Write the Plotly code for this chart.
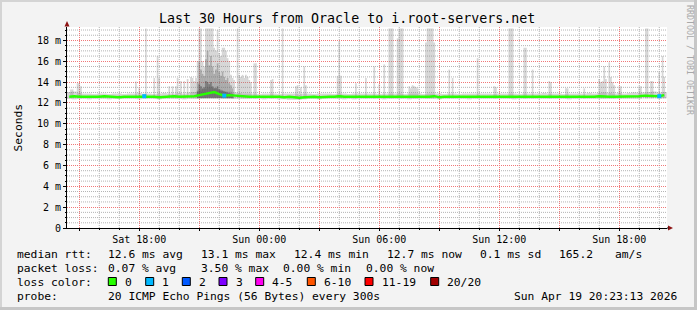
import pandas as pd
import plotly.graph_objects as go

MONO = "DejaVu Sans Mono"

# ---------------- data ----------------
t_start = "2026-04-18 14:23:13"
t_end = "2026-04-19 20:23:13"

# 15-minute median rtt (ms) and lost pings per bin, Sat 14:30 -> Sun 20:15
median_times = pd.date_range("2026-04-18 14:30", periods=120, freq="15min")
median_ms = [
    12.60, 12.65, 12.60, 12.60, 12.55, 12.60, 12.60, 12.65, 12.60, 12.60, 12.55, 12.60,
    12.60, 12.60, 12.65, 12.65, 12.60, 12.60, 12.55, 12.60, 12.60, 12.65, 12.60, 12.60,
    12.60, 12.65, 12.75, 12.85, 13.00, 13.05, 12.85, 12.70, 12.75, 12.70, 12.65, 12.60,
    12.60, 12.60, 12.60, 12.65, 12.60, 12.60, 12.60, 12.55, 12.60, 12.55, 12.50, 12.55,
    12.60, 12.60, 12.55, 12.60, 12.60, 12.60, 12.65, 12.60, 12.60, 12.55, 12.60, 12.60,
    12.60, 12.60, 12.60, 12.55, 12.60, 12.60, 12.60, 12.60, 12.55, 12.60, 12.60, 12.60,
    12.60, 12.65, 12.55, 12.60, 12.60, 12.60, 12.60, 12.60, 12.55, 12.60, 12.60, 12.60,
    12.60, 12.60, 12.60, 12.60, 12.60, 12.55, 12.60, 12.60, 12.60, 12.60, 12.60, 12.60,
    12.60, 12.60, 12.60, 12.60, 12.55, 12.60, 12.60, 12.60, 12.60, 12.60, 12.65, 12.60,
    12.60, 12.60, 12.60, 12.65, 12.60, 12.60, 12.65, 12.70, 12.70, 12.70, 12.65, 12.75,
]
median_loss = [
    0, 0, 0, 0, 0, 0, 0, 0, 0, 0, 0, 0,
    0, 0, 0, 1, 0, 0, 0, 0, 0, 0, 0, 0,
    0, 0, 0, 0, 0, 0, 0, 1, 0, 0, 0, 0,
    0, 0, 0, 0, 0, 0, 0, 0, 0, 0, 0, 0,
    0, 0, 0, 0, 0, 0, 0, 0, 0, 0, 0, 0,
    0, 0, 0, 0, 0, 0, 0, 0, 0, 0, 0, 0,
    0, 0, 0, 0, 0, 0, 0, 0, 0, 0, 0, 0,
    0, 0, 0, 0, 0, 0, 0, 0, 0, 0, 0, 0,
    0, 0, 0, 0, 0, 0, 0, 0, 0, 0, 0, 0,
    0, 0, 0, 0, 0, 0, 0, 0, 0, 0, 1, 0,
]
# low / high edge of the everyday smoke band (ms), same 15-minute bins
band_lo_ms = [
    12.40, 12.35, 12.40, 12.40, 12.35, 12.40, 12.40, 12.40, 12.35, 12.40, 12.40, 12.40,
    12.40, 12.40, 12.35, 12.40, 12.40, 12.40, 12.35, 12.40, 12.40, 12.40, 12.40, 12.35,
    12.40, 12.40, 12.45, 12.50, 12.55, 12.55, 12.50, 12.45, 12.45, 12.40, 12.40, 12.40,
    12.40, 12.40, 12.40, 12.35, 12.40, 12.40, 12.35, 12.35, 12.30, 12.30, 12.30, 12.35,
    12.40, 12.40, 12.35, 12.40, 12.40, 12.40, 12.40, 12.35, 12.40, 12.35, 12.40, 12.40,
    12.40, 12.40, 12.40, 12.35, 12.40, 12.40, 12.40, 12.40, 12.35, 12.40, 12.40, 12.40,
    12.40, 12.40, 12.35, 12.40, 12.40, 12.40, 12.40, 12.40, 12.35, 12.40, 12.40, 12.40,
    12.40, 12.40, 12.40, 12.40, 12.40, 12.35, 12.40, 12.40, 12.40, 12.40, 12.40, 12.40,
    12.40, 12.40, 12.40, 12.40, 12.35, 12.40, 12.40, 12.40, 12.40, 12.40, 12.40, 12.40,
    12.40, 12.40, 12.40, 12.40, 12.40, 12.40, 12.40, 12.45, 12.45, 12.45, 12.40, 12.45,
]
band_hi_ms = [
    13.05, 13.10, 12.95, 12.90, 12.90, 12.85, 12.90, 12.90, 12.85, 12.90, 12.90, 12.85,
    12.90, 12.90, 12.95, 12.90, 12.90, 12.85, 12.90, 12.95, 12.90, 12.90, 12.95, 12.90,
    13.00, 13.05, 13.20, 13.35, 13.50, 13.45, 13.30, 13.15, 13.10, 13.00, 12.95, 12.90,
    12.90, 12.90, 12.85, 12.90, 12.90, 12.90, 12.85, 12.90, 12.90, 12.90, 12.85, 12.90,
    12.90, 12.85, 12.90, 12.90, 12.90, 12.85, 12.90, 12.90, 12.85, 12.90, 12.90, 12.90,
    12.90, 12.90, 12.85, 12.90, 12.90, 12.90, 12.90, 12.85, 12.90, 12.90, 12.90, 12.85,
    12.90, 12.90, 12.90, 12.85, 12.90, 12.90, 12.85, 12.90, 12.90, 12.90, 12.90, 12.90,
    12.90, 12.85, 12.90, 12.90, 12.90, 12.90, 12.85, 12.90, 12.90, 12.90, 12.90, 12.95,
    12.90, 12.90, 12.90, 12.85, 12.90, 12.90, 12.90, 12.90, 12.95, 12.90, 12.95, 13.00,
    12.95, 12.90, 12.95, 12.90, 12.95, 13.00, 12.95, 13.00, 13.05, 13.10, 13.00, 13.05,
]
smoke_floor_ms = 12.45

# 5-minute bins where the slowest pings stand out (top of outer smoke, ms)
sat_spike_times = [
    "14:35", "14:40", "14:55", "15:00", "15:05", "17:50", "18:00", "18:20", "18:45", "18:55",
    "19:00", "19:30", "19:40", "19:50", "19:55", "20:05", "20:15", "20:25", "20:35", "20:40",
    "20:45", "20:50", "20:55", "21:00", "21:05", "21:10", "21:15", "21:20", "21:25", "21:30",
    "21:35", "21:40", "21:45", "21:50", "21:55", "22:00", "22:05", "22:10", "22:15", "22:20",
    "22:25", "22:30", "22:35", "22:40", "22:45", "22:55", "23:00", "23:05", "23:10", "23:15",
    "23:20", "23:25", "23:30", "23:35", "23:45", "23:50",
]
sat_spike_top_ms = [
    13.3, 13.3, 13.9, 13.9, 13.6, 14.05, 13.5, 19.15, 14.4, 16.5,
    14.4, 13.6, 13.6, 13.6, 14.4, 14.1, 14.1, 14.3, 14.5, 14.4,
    14.1, 14.4, 16.0, 19.15, 19.15, 16.0, 15.5, 19.15, 19.15, 19.15,
    19.15, 19.15, 17.3, 17.0, 19.0, 16.8, 16.5, 17.3, 17.3, 17.0,
    16.3, 16.0, 14.7, 14.4, 14.2, 19.15, 14.7, 14.5, 14.7, 14.4,
    14.7, 14.5, 14.2, 14.0, 15.8, 15.8,
]
sun_spike_times = [
    "00:35", "00:40", "01:10", "01:50", "01:55", "02:05", "02:15", "02:20", "03:55", "04:00",
    "04:05", "04:50", "05:20", "05:45", "06:00", "06:15", "06:30", "06:35", "06:40", "06:55",
    "07:00", "07:05", "07:10", "07:30", "07:35", "07:40", "07:45", "07:50", "07:55", "08:20",
    "08:25", "08:30", "08:35", "08:40", "08:45", "09:30", "09:40", "10:55", "11:45", "11:50",
    "12:30", "12:35", "12:40", "13:15", "13:20", "13:40", "14:30", "14:35", "15:20", "15:25",
    "16:15", "17:00", "17:05", "17:10", "17:15", "17:20", "17:30", "17:35", "17:40", "17:45",
    "18:00", "18:05", "19:00", "19:05", "19:20", "19:25", "19:35", "19:40", "20:00", "20:10",
    "20:15",
]
sun_spike_top_ms = [
    14.2, 14.3, 19.15, 13.6, 13.7, 13.5, 15.5, 13.7, 14.6, 17.9,
    14.6, 13.9, 14.4, 15.5, 13.8, 15.7, 19.15, 19.15, 19.15, 18.2,
    19.15, 19.15, 19.15, 13.6, 13.4, 13.7, 13.6, 13.5, 13.4, 17.8,
    19.15, 19.15, 19.15, 19.15, 17.8, 15.2, 14.4, 16.3, 13.6, 13.5,
    19.15, 19.15, 19.15, 17.3, 17.3, 15.2, 14.1, 14.0, 13.4, 13.4,
    13.4, 14.3, 14.0, 14.1, 15.5, 14.3, 15.9, 14.5, 14.0, 13.7,
    13.6, 13.6, 13.6, 13.6, 19.15, 19.15, 14.1, 14.1, 15.0, 16.5,
    14.5,
]

# dense period Sat 20:55 -> 22:40: inner smoke layers (ms)
cluster_times = pd.date_range("2026-04-18 20:55", periods=22, freq="5min")
cluster_mid_ms = [14.0, 16.0, 15.2, 14.8, 14.6, 16.2, 17.0, 15.6, 16.5, 15.5, 14.8,
                  15.2, 15.8, 15.0, 14.6, 15.0, 14.5, 14.2, 14.4, 13.9, 13.7, 13.4]
cluster_inner_ms = [13.1, 13.8, 13.6, 13.4, 13.5, 14.1, 14.0, 13.8, 14.0, 13.6, 13.4,
                    13.4, 13.6, 13.3, 13.2, 13.2, 13.1, 13.05, 13.0, 12.95, 12.9, 12.85]

x_tick_times = ["2026-04-18 15:00", "2026-04-18 18:00", "2026-04-18 21:00", "2026-04-19 00:00",
                "2026-04-19 03:00", "2026-04-19 06:00", "2026-04-19 09:00", "2026-04-19 12:00",
                "2026-04-19 15:00", "2026-04-19 18:00"]
x_tick_labels = ["", "Sat 18:00", "", "Sun 00:00", "", "Sun 06:00", "", "Sun 12:00", "", "Sun 18:00"]
y_tick_vals = [0, 2, 4, 6, 8, 10, 12, 14, 16, 18]
y_tick_labels = ["0", "2 m", "4 m", "6 m", "8 m", "10 m", "12 m", "14 m", "16 m", "18 m"]

title_text = "Last 30 Hours from Oracle to i.root-servers.net"
stats_rtt = ["median rtt:", "12.6 ms avg", "13.1 ms max", "12.4 ms min", "12.7 ms now",
             "0.1 ms sd", "165.2", "am/s"]
stats_loss = ["packet loss:", "0.07 % avg", "3.50 % max", "0.00 % min", "0.00 % now"]
probe_line = ["probe:", "20 ICMP Echo Pings (56 Bytes) every 300s", "Sun Apr 19 20:23:13 2026"]
loss_labels = ["0", "1", "2", "3", "4-5", "6-10", "11-19", "20/20"]
loss_colors = ["#26ff00", "#00b8ff", "#0059ff", "#7e00ff", "#ff00f0", "#ff5500", "#ff0000", "#a10000"]

# ---------------- layout geometry (pixels) ----------------
PL, PT, PW, PH = 67, 27, 600, 201
Y_MAX = 19.29


def px(x):
    return (x - PL) / PW


def py(y):
    return (PT + PH - y) / PH


spike_times = [pd.Timestamp("2026-04-18 " + t) for t in sat_spike_times] + \
              [pd.Timestamp("2026-04-19 " + t) for t in sun_spike_times]
spike_top = sat_spike_top_ms + sun_spike_top_ms

fig = go.Figure()

OUTER = "rgba(140,140,140,0.36)"
MID = "rgba(100,100,100,0.38)"
INNER = "rgba(50,50,50,0.40)"

fig.add_trace(go.Bar(x=median_times, base=band_lo_ms,
                     y=[h - l for h, l in zip(band_hi_ms, band_lo_ms)],
                     width=900000, marker=dict(color=OUTER, line=dict(width=0)), hoverinfo="skip"))
fig.add_trace(go.Bar(x=spike_times, base=[smoke_floor_ms] * len(spike_top),
                     y=[v - smoke_floor_ms for v in spike_top],
                     width=300000, marker=dict(color=OUTER, line=dict(width=0)), hoverinfo="skip"))
fig.add_trace(go.Bar(x=cluster_times, base=[smoke_floor_ms] * len(cluster_mid_ms),
                     y=[v - smoke_floor_ms for v in cluster_mid_ms],
                     width=300000, marker=dict(color=MID, line=dict(width=0)), hoverinfo="skip"))
fig.add_trace(go.Bar(x=cluster_times, base=[smoke_floor_ms] * len(cluster_inner_ms),
                     y=[v - smoke_floor_ms for v in cluster_inner_ms],
                     width=300000, marker=dict(color=INNER, line=dict(width=0)), hoverinfo="skip"))

fig.add_trace(go.Scatter(x=median_times, y=median_ms, mode="lines",
                         line=dict(color=loss_colors[0], width=2.4), hoverinfo="skip"))
lx = [t for t, l in zip(median_times, median_loss) if l > 0]
ly = [v for v, l in zip(median_ms, median_loss) if l > 0]
lc = [loss_colors[l] for l in median_loss if l > 0]
fig.add_trace(go.Scatter(x=lx, y=ly, mode="markers",
                         marker=dict(symbol="square", size=4, color=lc, line=dict(width=0)),
                         hoverinfo="skip"))

GRID_MAJ = "#f07878"
GRID_MIN = "#b4b4b4"
DASH = "1px,1px"

fig.update_layout(
    width=697, height=310,
    margin=dict(l=PL, r=697 - PL - PW, t=PT, b=310 - PT - PH, pad=0),
    paper_bgcolor="#f3f3f3", plot_bgcolor="#ffffff",
    barmode="overlay", showlegend=False,
    font=dict(family=MONO, size=10, color="#000000"),
)
fig.update_xaxes(
    type="date", range=[t_start, t_end],
    tickmode="array", tickvals=x_tick_times, ticktext=x_tick_labels,
    showgrid=True, gridcolor=GRID_MAJ, griddash=DASH, gridwidth=1,
    ticks="outside", ticklen=2, tickcolor="#000000", tickwidth=1,
    showline=True, linecolor="#000000", linewidth=1, zeroline=False,
    tickfont=dict(family=MONO, size=10, color="#000000"),
    minor=dict(tick0="2026-04-18 15:00", dtick=3600000, showgrid=False,
               ticks="outside", ticklen=1, tickcolor="#000000"),
    fixedrange=True,
)
fig.update_yaxes(
    range=[0, Y_MAX],
    tickmode="array", tickvals=y_tick_vals, ticktext=y_tick_labels,
    showgrid=True, gridcolor=GRID_MAJ, griddash=DASH, gridwidth=1,
    ticks="outside", ticklen=3, tickcolor="#000000", tickwidth=1,
    showline=True, linecolor="#000000", linewidth=1, zeroline=False,
    tickfont=dict(family=MONO, size=10, color="#000000"),
    minor=dict(tick0=0, dtick=0.5, showgrid=False, ticks="outside", ticklen=1, tickcolor="#000000"),
    fixedrange=True,
)

# minor grid lines (between the major ones), drawn under the traces
grid_hours = pd.date_range("2026-04-18 15:00", "2026-04-19 20:00", freq="1h")
major_x = set(pd.to_datetime(x_tick_times))
for h in grid_hours:
    if h in major_x:
        continue
    fig.add_shape(type="line", xref="x", yref="paper", x0=h, x1=h, y0=0, y1=1, layer="between",
                  line=dict(color=GRID_MIN, width=1, dash=DASH))
k = 1
while k * 0.5 < Y_MAX:
    v = k * 0.5
    if v not in y_tick_vals:
        fig.add_shape(type="line", xref="paper", yref="y", x0=0, x1=1, y0=v, y1=v, layer="between",
                      line=dict(color=GRID_MIN, width=1, dash=DASH))
    k += 1


def label(text, x, y, size=11.3, anchor="left", color="#000000", angle=0):
    fig.add_annotation(text=text, x=px(x), y=py(y), xref="paper", yref="paper",
                       xanchor=anchor, yanchor="middle", showarrow=False, textangle=angle,
                       font=dict(family=MONO, size=size, color=color), borderpad=0)


def rect(x0, y0, x1, y1, fill, line=None):
    fig.add_shape(type="rect", xref="paper", yref="paper",
                  x0=px(x0), x1=px(x1), y0=py(y1), y1=py(y0), fillcolor=fill,
                  line=dict(width=1 if line else 0, color=line or fill), layer="above")


# title, axis title, watermark
label(title_text, 347, 19, size=13.3, anchor="center")
label("Seconds", 10.5, 127.5, angle=-90)
label("RRDTOOL / TOBI OETIKER", 690, 60, size=8.3, anchor="center", color="#a8a8a8", angle=90)

# axis arrows
ARROW = "#8e1414"
fig.add_shape(type="path", xref="paper", yref="paper", layer="above",
              path=f"M {px(668)},{py(225.5)} L {px(673)},{py(228)} L {px(668)},{py(230.5)} Z",
              fillcolor=ARROW, line=dict(width=0))
fig.add_shape(type="line", xref="paper", yref="paper", layer="above",
              x0=px(667), x1=px(668.5), y0=py(228), y1=py(228), line=dict(color="#000000", width=1))
fig.add_shape(type="path", xref="paper", yref="paper", layer="above",
              path=f"M {px(64.5)},{py(26.5)} L {px(67)},{py(21)} L {px(69.5)},{py(26.5)} Z",
              fillcolor=ARROW, line=dict(width=0))

# legend / statistics block
rtt_x = [16, 107.3, 200, 293.3, 386, 479.3, 558.3, 614.3]
for t, x in zip(stats_rtt, rtt_x):
    label(t, x, 254)
loss_x = [16, 107.3, 200, 281.8, 365]
for t, x in zip(stats_loss, loss_x):
    label(t, x, 268)
label("loss color:", 16, 282)
sq_x = [108.3, 145.7, 182.3, 219, 255.7, 307.3, 365, 430.7]
for t, c, x in zip(loss_labels, loss_colors, sq_x):
    rect(x, 277.5, x + 8, 285.5, c, line="#000000")
    label(t, x + 15.5, 282)
probe_x = [16, 107.3, 513.3]
for t, x in zip(probe_line, probe_x):
    label(t, x, 296)

# 3-D frame of the canvas
rect(0, 0, 697, 2, "#d4d4d4")
rect(0, 0, 2, 310, "#d4d4d4")
rect(694, 0, 697, 310, "#c6c6c6")
rect(0, 307, 697, 310, "#c6c6c6")

fig.write_html("out.html")
